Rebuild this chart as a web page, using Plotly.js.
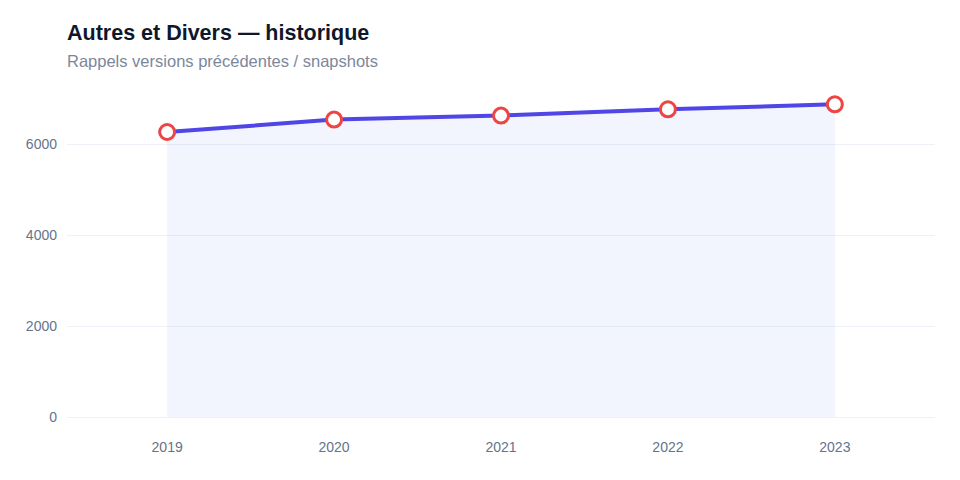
<!DOCTYPE html>
<html>
<head>
<meta charset="utf-8">
<script src="https://cdn.plot.ly/plotly-3.0.1.min.js"></script>
<style>html,body{margin:0;padding:0;background:#fff;}#chart{width:960px;height:480px;}</style>
</head>
<body>
<div id="chart"></div>
<script>
const years = ["2019", "2020", "2021", "2022", "2023"];
const values = [6264, 6536, 6624, 6763, 6873];
const yTicks = [0, 2000, 4000, 6000];
const titleText = "Autres et Divers — historique";
const subtitleText = "Rappels versions précédentes / snapshots";

const trace = {
  x: years,
  y: values,
  type: "scatter",
  mode: "lines+markers",
  fill: "tozeroy",
  fillcolor: "rgba(69,98,241,0.07)",
  line: {color: "#4f46e5", width: 4},
  marker: {size: 15, color: "#ffffff", line: {color: "#ef4444", width: 3}},
  hoverinfo: "x+y"
};

const layout = {
  width: 960, height: 480,
  paper_bgcolor: "#ffffff", plot_bgcolor: "#ffffff",
  margin: {l: 67, r: 25, t: 90, b: 63},
  font: {family: "Liberation Sans, Arial, sans-serif", color: "#64748b", size: 14},
  showlegend: false,
  xaxis: {
    type: "category", range: [-0.6, 4.6],
    showgrid: false, zeroline: false, showline: false,
    ticks: "", ticklabelstandoff: 20, tickfont: {size: 14, color: "#64748b"}
  },
  yaxis: {
    range: [0, 7187], tickvals: yTicks,
    showgrid: true, gridcolor: "#eef1f7", gridwidth: 1,
    zeroline: true, zerolinecolor: "#eef1f7", zerolinewidth: 1,
    showline: false, ticks: "", ticklabelstandoff: 9,
    tickfont: {size: 14, color: "#64748b"}
  },
  annotations: [
    {text: "<b>" + titleText + "</b>", xref: "paper", yref: "paper", x: 0, y: 1.174,
     xanchor: "left", yanchor: "middle", showarrow: false, xshift: -2,
     font: {size: 21.5, color: "#0f172a", family: "Liberation Sans, Arial, sans-serif"}},
    {text: subtitleText, xref: "paper", yref: "paper", x: 0, y: 1.089,
     xanchor: "left", yanchor: "middle", showarrow: false, xshift: -2,
     font: {size: 16.5, color: "#7c879b", family: "Liberation Sans, Arial, sans-serif"}}
  ]
};

Plotly.newPlot("chart", [trace], layout, {displayModeBar: false, staticPlot: true});
</script>
</body>
</html>
